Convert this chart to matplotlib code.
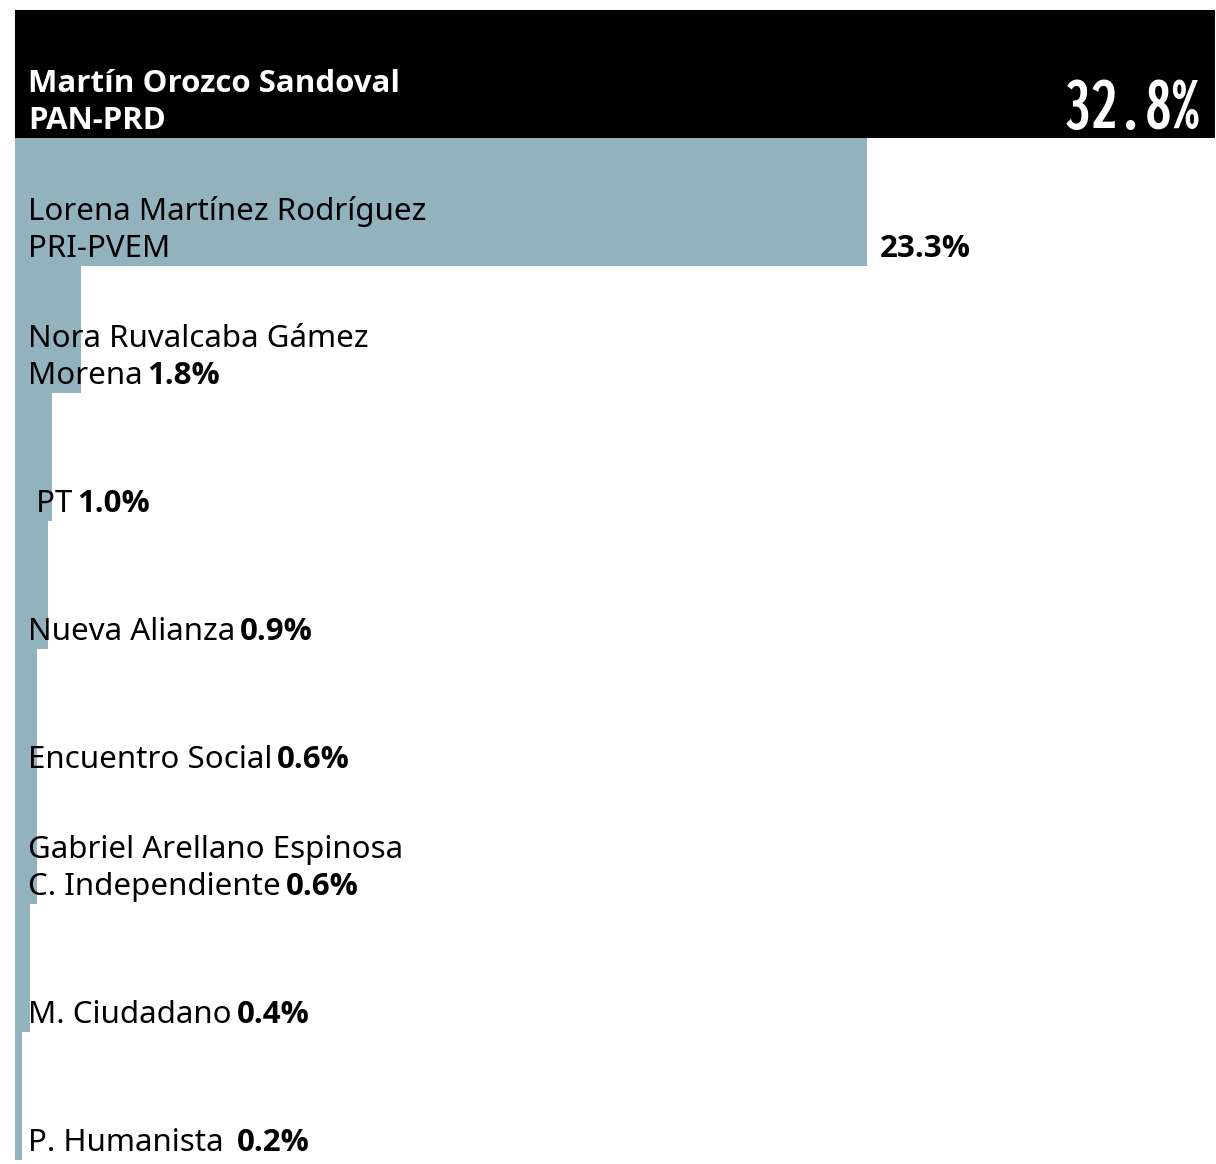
import matplotlib
matplotlib.use("Agg")
import matplotlib.pyplot as plt
from matplotlib import font_manager as fm
from matplotlib.transforms import offset_copy

# Results, top to bottom
names = ["Martín Orozco Sandoval", "Lorena Martínez Rodríguez", "Nora Ruvalcaba Gámez",
         "", "", "", "Gabriel Arellano Espinosa", "", ""]
parties = ["PAN-PRD", "PRI-PVEM", "Morena", " PT", "Nueva Alianza", "Encuentro Social",
           "C. Independiente", "M. Ciudadano", "P. Humanista "]
values = [32.8, 23.3, 1.8, 1.0, 0.9, 0.6, 0.6, 0.4, 0.2]

W, H = 1216, 1164
BLUE = "#92B2BE"
FS = 22.5


def pick_bold(families):
    for fam in families:
        for f in fm.fontManager.ttflist:
            if f.name == fam and f.weight in (700, "bold") and f.style == "normal":
                return fam
    return "DejaVu Sans"


def condensed_bold(fig, sample, target_px=143):
    # proportional condensed/narrow bold face whose width is closest to the original
    keys = ("condensedbold", "narrowbold", "condensed-bold", "narrow-bold")
    found = []
    for f in fm.fontManager.ttflist:
        base = f.fname.replace("_", "").replace(" ", "").lower()
        if any(k in base for k in keys) and "italic" not in base and "oblique" not in base \
                and "mono" not in base:
            found.append(f.fname)
    if not found:
        return fm.FontProperties(family="DejaVu Sans", weight="bold", size=50)
    r = fig.canvas.get_renderer()
    best, best_d = None, None
    for path in sorted(set(found)):
        fp = fm.FontProperties(fname=path, size=56)
        w, _, _ = r.get_text_width_height_descent(sample, fp, ismath=False)
        d = abs(w - target_px)
        if best_d is None or d < best_d:
            best, best_d = fp, d
    return best


FONT = "Noto Sans"
BOLD = pick_bold(["Noto Sans", "Open Sans"])

fig = plt.figure(figsize=(W / 100, H / 100), dpi=100, facecolor="white")
ax = fig.add_axes([15 / W, 4 / H, 1200 / W, 1150 / H])
colors = ["black"] + [BLUE] * (len(values) - 1)
ax.barh(range(len(values)), values, height=1.0, color=colors, linewidth=0)
ax.set_xlim(0, max(values))
ax.set_ylim(len(values) - 0.5, -0.5)
ax.axis("off")

renderer = fig.canvas.get_renderer()
big_font = condensed_bold(fig, f"{values[0]:.1f}%")

for i, (name, party, val) in enumerate(zip(names, parties, values)):
    y = i + 0.5  # bottom edge of the row
    txt_color = "white" if i == 0 else "black"
    fam = BOLD if i == 0 else FONT
    weight = "bold" if i == 0 else "normal"
    tr_last = offset_copy(ax.transData, fig, x=13, y=9, units="dots")
    if name:
        tr_first = offset_copy(ax.transData, fig, x=13, y=9 + 37, units="dots")
        ax.text(0, y, name, transform=tr_first, fontsize=FS, family=fam,
                color=txt_color, weight=weight, va="baseline", ha="left")
    t = ax.text(0, y, party, transform=tr_last, fontsize=FS, family=fam,
                color=txt_color, weight=weight, va="baseline", ha="left")
    label = f"{val:.1f}%"
    if i == 0:
        tr = offset_copy(ax.transData, fig, x=-15, y=9, units="dots")
        ax.text(val, y, label, transform=tr, fontproperties=big_font, color="white",
                va="baseline", ha="right")
    elif i == 1:
        tr = offset_copy(ax.transData, fig, x=12, y=9, units="dots")
        ax.text(val, y, label, transform=tr, fontsize=FS, family=BOLD,
                weight="bold", va="baseline", ha="left")
    else:
        w = t.get_window_extent(renderer).width
        tr = offset_copy(ax.transData, fig, x=13 + w + 5, y=9, units="dots")
        ax.text(0, y, label, transform=tr, fontsize=FS, family=BOLD,
                weight="bold", va="baseline", ha="left")

fig.savefig("out.png", dpi=100, facecolor="white")
